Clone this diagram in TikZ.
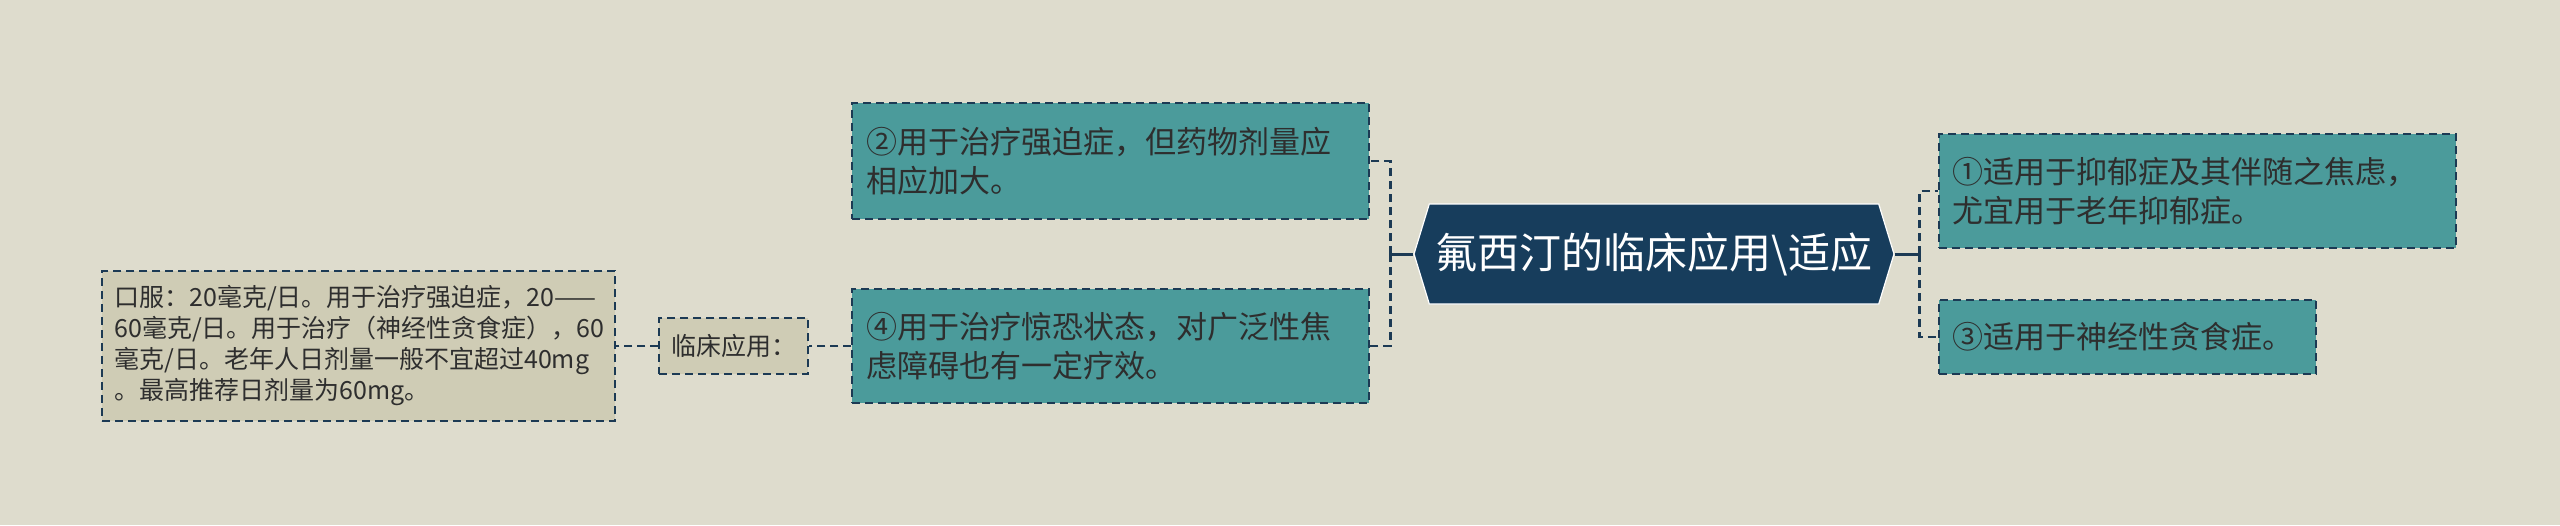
\documentclass[tikz,border=0pt]{standalone}
\usepackage{fontspec}
\setmainfont{Noto Sans CJK SC}
\usepackage{xcolor}
\usetikzlibrary{positioning,shapes.symbols}

\definecolor{bgcol}{HTML}{DEDCCD}
\definecolor{navy}{HTML}{173D5C}
\definecolor{tealbox}{HTML}{4B9B9B}
\definecolor{notefill}{HTML}{CFCCB5}
\definecolor{edge}{HTML}{1C3A54}
\definecolor{ink}{HTML}{2E2E2E}

\begin{document}
\begin{tikzpicture}[every node/.append style={align=left},
  root/.style={signal, signal to=west and east, signal pointer angle=146, fill=navy, draw=white, line width=0.6pt, text=white, minimum width=240pt, minimum height=50pt, inner sep=0pt, align=center, font=\fontsize{21pt}{25pt}\selectfont},
  leaf/.style={rectangle, fill=tealbox, draw=edge, line width=1pt, dash pattern=on 4pt off 2.5pt, text=ink, inner xsep=7pt, inner ysep=0pt, font=\fontsize{15.5pt}{19.5pt}\selectfont},
  note/.style={rectangle, fill=notefill, draw=edge, line width=1pt, dash pattern=on 4pt off 2.5pt, text=ink, inner xsep=6pt, inner ysep=0pt, font=\fontsize{12.5pt}{15.5pt}\selectfont},
  link/.style={draw=edge, line width=1.3pt, dash pattern=on 4pt off 2.5pt},
  stem/.style={draw=edge, line width=1.5pt}]
    \fill[bgcol] (0,0) rectangle (1280pt,-262.5pt);
    \useasboundingbox (0,0) rectangle (1280pt,-262.5pt);
    \node [root] (fluox) at (827pt,-127pt) {氟西汀的临床应用\textbackslash 适应};
    \node [leaf, text width=244.5pt, minimum height=58pt, left=21.5pt of fluox.west, yshift=46.5pt] (ind2) {②用于治疗强迫症，但药物剂量应\\相应加大。};
    \node [leaf, text width=244.5pt, minimum height=57pt, left=21.5pt of fluox.west, yshift=-46pt] (ind4) {④用于治疗惊恐状态，对广泛性焦\\虑障碍也有一定疗效。};
    \node [leaf, text width=244.5pt, minimum height=57pt, right=21.5pt of fluox.east, yshift=31.5pt] (ind1) {①适用于抑郁症及其伴随之焦虑，\\尤宜用于老年抑郁症。};
    \node [leaf, text width=174.5pt, minimum height=37pt, right=21.5pt of fluox.east, yshift=-41.5pt] (ind3) {③适用于神经性贪食症。};
    \node [note, minimum width=73pt, minimum height=28pt, align=center, left=21pt of ind4.west] (use) {临床应用：};
    \node [note, text width=244.5pt, minimum height=75pt, left=21pt of use.west] (dose) {口服：20毫克/日。用于治疗强迫症，20——\\60毫克/日。用于治疗（神经性贪食症），60\\毫克/日。老年人日剂量一般不宜超过40mg\\。最高推荐日剂量为60mg。};
    \coordinate (lj) at ([xshift=-11.5pt]fluox.west);
    \coordinate (rj) at ([xshift=12.5pt]fluox.east);
    \draw [stem] (fluox.west) -- (lj);
    \draw [link] (lj) |- (ind2.east);
    \draw [link] (lj) |- (ind4.east);
    \draw [stem] (fluox.east) -- (rj);
    \draw [link] (rj) |- (ind1.west);
    \draw [link] (rj) |- (ind3.west);
    \draw [link] (ind4.west) -- (use.east);
    \draw [link] (use.west) -- (dose.east);
\end{tikzpicture}
\end{document}
